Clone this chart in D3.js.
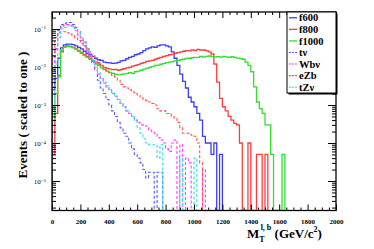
<!DOCTYPE html>
<html><head><meta charset="utf-8">
<script src="https://cdn.jsdelivr.net/npm/d3@7"></script>
<style>body{margin:0;background:#fff}svg{display:block}</style>
</head><body>
<script>
// ---- data (20 GeV bins starting at 0) ----
const binWidth = 20;
const f600 = [0.0025,0.005,0.017,0.032,0.038,0.040,0.040,0.039,0.036,0.033,
  0.030,0.026,0.023,0.021,0.019,0.017,0.0155,0.015,0.0135,0.013,
  0.0128,0.0125,0.0127,0.0132,0.0145,0.015,0.0165,0.018,0.019,0.021,
  0.022,0.024,0.027,0.030,0.032,0.034,0.033,0.036,0.038,0.038,
  0.036,0.034,0.025,0.017,0.011,0.0065,0.0042,0.0028,0.0016,0.0012,
  0.0009,0.0006,0.0004,0.00015,0.0001,0.0001,0.00005,0.0001,0,0.00005];
const f800 = [0.00005,0.0006,0.006,0.025,0.034,0.036,0.035,0.033,0.030,0.027,
  0.024,0.021,0.019,0.017,0.015,0.0135,0.012,0.011,0.0098,0.0092,
  0.0088,0.0085,0.0087,0.0082,0.0086,0.009,0.0095,0.0098,0.0105,0.011,
  0.0115,0.0125,0.013,0.014,0.0145,0.015,0.016,0.017,0.018,0.019,
  0.020,0.021,0.0215,0.023,0.024,0.025,0.026,0.027,0.0265,0.028,
  0.027,0.029,0.028,0.028,0.027,0.025,0.022,0.012,0.004,0.0015,
  0.0009,0.0007,0.0005,0.0004,0.00033,0.0003,0.0001,0,0,0.0001,
  0,0,0.00005,0.00005,0,0.00005];
const f1000 = [0.0004,0.002,0.0055,0.028,0.033,0.035,0.034,0.032,0.029,0.026,
  0.023,0.020,0.018,0.016,0.014,0.012,0.011,0.0095,0.0085,0.0078,
  0.0072,0.0068,0.0064,0.0062,0.0064,0.0066,0.0068,0.0071,0.0068,0.0075,
  0.0078,0.0082,0.0088,0.0092,0.0098,0.0102,0.011,0.0112,0.0118,0.0125,
  0.013,0.0135,0.0138,0.0145,0.015,0.0155,0.016,0.0168,0.017,0.0175,
  0.018,0.018,0.019,0.0182,0.019,0.0195,0.019,0.0185,0.0188,0.0182,
  0.019,0.0185,0.018,0.0186,0.018,0.0172,0.0166,0.016,0.0135,0.011,
  0.0075,0.003,0.0012,0.0008,0.0006,0.0003,0.0003,0.00005,0,0,
  0,0.00005];
const tv = [0.004,0.03,0.09,0.13,0.14,0.148,0.148,0.13,0.11,0.085,
  0.06,0.045,0.03,0.02,0.013,0.0085,0.0045,0.0028,0.002,0.0014,
  0.001,0.0007,0.0005,0.00035,0.00025,0.00018,0.00015,0.0001,0.00007,0.00005,
  0.00004,0.00003,0.00002,0.000012,0.000017,0.000017,0,0.000017,0.000017];
const wbv = [0.003,0.03,0.08,0.11,0.125,0.13,0.125,0.11,0.09,0.07,
  0.05,0.037,0.027,0.019,0.013,0.009,0.0065,0.005,0.0038,0.003,
  0.0025,0.002,0.0017,0.0014,0.0011,0.0009,0.0007,0.0006,0.0005,0.0004,
  0.00035,0.0003,0.0003,0.00028,0.00022,0.0002,0.00018,0.00014,0.00012,0.0001,
  0.00007,0.00006,0.0001,0.00012,0,0.00009,0,0.00004,0.00003,0,
  0,0,0,0.00002];
const ezb = [0.02,0.06,0.08,0.085,0.085,0.08,0.075,0.068,0.058,0.05,
  0.042,0.036,0.03,0.025,0.02,0.016,0.013,0.011,0.0095,0.008,
  0.007,0.006,0.0055,0.0045,0.0035,0.003,0.0028,0.0025,0.0022,0.002,
  0.0018,0.0016,0.0014,0.0013,0.0012,0.0011,0.001,0.0008,0.0007,0.0007,
  0.0006,0.0006,0.0005,0.00045,0.00035,0.00025,0.00018,0.00018,0.00018,0.00016,
  0.00015,0.0001,0.00003];
const tzv = [0.001,0.012,0.06,0.1,0.11,0.12,0.125,0.12,0.1,0.08,
  0.06,0.045,0.033,0.023,0.015,0.01,0.007,0.005,0.004,0.0032,
  0.0026,0.0021,0.0017,0.0014,0.0011,0.0009,0.0007,0.0006,0.0005,0.0004,
  0.00025,0.00018,0.00013,0.0001,0.00009,0.00009,0.00009,0.00004,0.00009,0,
  0,0,0,0,0,0.00004,0,0,0,0,
  0.00004];
const seriesNames = ["f600","f800","f1000","t\u03bd","Wb\u03bd","eZb","tZ\u03bd"];
const xTickLabels = [0,200,400,600,800,1000,1200,1400,1600,1800,2000];
const yTickExponents = [-1,-2,-3,-4,-5];

// ---- styles ----
const colors = ["#3c3cff","#ff3c3c","#2fe02f","#5a5aff","#ff3cff","#ff5050","#30dede"];
const dashes = [null,null,null,"3,2","3,2","3,2","3,2"];
const widths = [1.3,1.3,1.3,1.1,1.1,1.1,1.1];
const allSeries = [f600,f800,f1000,tv,wbv,ezb,tzv];

const W = 374, H = 249;
const L = 52, R = 336, T = 12, B = 210.5;
const yMin = 1.675e-6, yMax = 0.28;
const svg = d3.select("body").append("svg").attr("width",W).attr("height",H);
const x = d3.scaleLinear().domain([0,2000]).range([L,R]);
const y = d3.scaleLog().domain([yMin,yMax]).range([B,T]);
const serif = "'Liberation Serif','Times New Roman',serif";

svg.append("defs").append("clipPath").attr("id","clip")
  .append("rect").attr("x",L).attr("y",T).attr("width",R-L).attr("height",B-T);

function stepPts(vals){
  const pts=[[0,yMin]];
  vals.forEach((v,i)=>{const vv=v>0?v:yMin; pts.push([i*binWidth,vv],[(i+1)*binWidth,vv]);});
  pts.push([vals.length*binWidth,yMin]);
  return pts;
}
const line = d3.line().x(d=>x(d[0])).y(d=>y(Math.max(d[1],yMin)));
const g = svg.append("g").attr("clip-path","url(#clip)");
allSeries.forEach((s,k)=>{
  g.append("path").attr("d",line(stepPts(s))).attr("fill","none")
    .attr("stroke",colors[k]).attr("stroke-width",widths[k])
    .attr("stroke-dasharray",dashes[k]);
});

// ---- axes ----
const majorX = xTickLabels;
const minorX = d3.range(0,2001,50).filter(v=>v%200!==0);
function styleAxis(sel){sel.select(".domain").remove();sel.selectAll("line").attr("stroke","#000").attr("stroke-width",1);}
svg.append("g").attr("transform",`translate(0,${B})`)
  .call(d3.axisBottom(x).tickValues(majorX).tickSize(-6).tickPadding(9).tickFormat(d3.format("d")))
  .call(styleAxis)
  .selectAll("text").attr("font-family",serif).attr("font-weight","bold").attr("font-size",7).attr("fill","#000");
svg.append("g").attr("transform",`translate(0,${B})`)
  .call(d3.axisBottom(x).tickValues(minorX).tickSize(-3).tickFormat(""))
  .call(styleAxis);
svg.append("g").attr("transform",`translate(0,${T})`)
  .call(d3.axisTop(x).tickValues(majorX).tickSize(-6).tickFormat(""))
  .call(styleAxis);
svg.append("g").attr("transform",`translate(0,${T})`)
  .call(d3.axisTop(x).tickValues(minorX).tickSize(-3).tickFormat(""))
  .call(styleAxis);

const majorY = yTickExponents.map(e=>Math.pow(10,e));
const minorY = [];
for(let e=-6;e<=-1;e++){for(let m=2;m<=9;m++){const v=m*Math.pow(10,e); if(v>=yMin&&v<=yMax) minorY.push(v);}}
const yl = svg.append("g").attr("transform",`translate(${L},0)`)
  .call(d3.axisLeft(y).tickValues(majorY).tickSize(-8).tickPadding(10).tickFormat(()=>""))
  .call(styleAxis);
yl.selectAll(".tick").each(function(d){
  const t = d3.select(this).append("text").attr("x",-6).attr("dy","0.32em")
    .attr("text-anchor","end").attr("font-family",serif).attr("font-size",7).attr("fill","#000");
  t.append("tspan").text("10");
  t.append("tspan").attr("dy","-0.45em").attr("font-size",5).text("\u22121".replace("1",String(-Math.round(Math.log10(d)))));
});
svg.append("g").attr("transform",`translate(${L},0)`)
  .call(d3.axisLeft(y).tickValues(minorY).tickSize(-4).tickFormat(""))
  .call(styleAxis);
svg.append("g").attr("transform",`translate(${R},0)`)
  .call(d3.axisRight(y).tickValues(majorY).tickSize(-8).tickFormat(""))
  .call(styleAxis);
svg.append("g").attr("transform",`translate(${R},0)`)
  .call(d3.axisRight(y).tickValues(minorY).tickSize(-4).tickFormat(""))
  .call(styleAxis);

// frame
svg.append("rect").attr("x",L).attr("y",T).attr("width",R-L).attr("height",B-T)
  .attr("fill","none").attr("stroke","#000").attr("stroke-width",1.3);

// ---- titles ----
svg.append("text").attr("transform",`translate(27,115) rotate(-90)`)
  .attr("text-anchor","middle").attr("font-family",serif).attr("font-weight","bold")
  .attr("font-size",13).attr("fill","#000").text("Events ( scaled to one )");
const xt = svg.append("text").attr("x",247).attr("y",238).attr("font-family",serif)
  .attr("font-weight","bold").attr("font-size",13).attr("fill","#000");
xt.append("tspan").text("M");
xt.append("tspan").attr("font-size",8).attr("dy",4).text("T");
xt.append("tspan").attr("font-size",8).attr("dx",-4).attr("dy",-12).text("l, b");
xt.append("tspan").attr("dy",8).text(" (GeV/c");
xt.append("tspan").attr("font-size",8).attr("dy",-6).text("2");
xt.append("tspan").attr("dy",6).text(")");

// ---- legend ----
const lgX0 = 287, lgY0 = 12, lgX1 = 336, lgY1 = 93;
svg.append("rect").attr("x",lgX0+1.5).attr("y",lgY0+1.5).attr("width",lgX1-lgX0).attr("height",lgY1-lgY0).attr("fill","#000");
svg.append("rect").attr("x",lgX0).attr("y",lgY0).attr("width",lgX1-lgX0).attr("height",lgY1-lgY0)
  .attr("fill","#fff").attr("stroke","#000").attr("stroke-width",1);
const rowH = (lgY1-lgY0)/seriesNames.length;
seriesNames.forEach((n,k)=>{
  const cy = lgY0 + rowH*(k+0.5);
  svg.append("line").attr("x1",289).attr("x2",297).attr("y1",cy).attr("y2",cy)
    .attr("stroke",colors[k]).attr("stroke-width",widths[k]).attr("stroke-dasharray",dashes[k]?"2,1":null);
  svg.append("text").attr("x",299).attr("y",cy).attr("dy","0.35em").attr("font-family",serif)
    .attr("font-weight","bold").attr("font-size",10.5).attr("fill","#000").text(n);
});
</script>
</body></html>
